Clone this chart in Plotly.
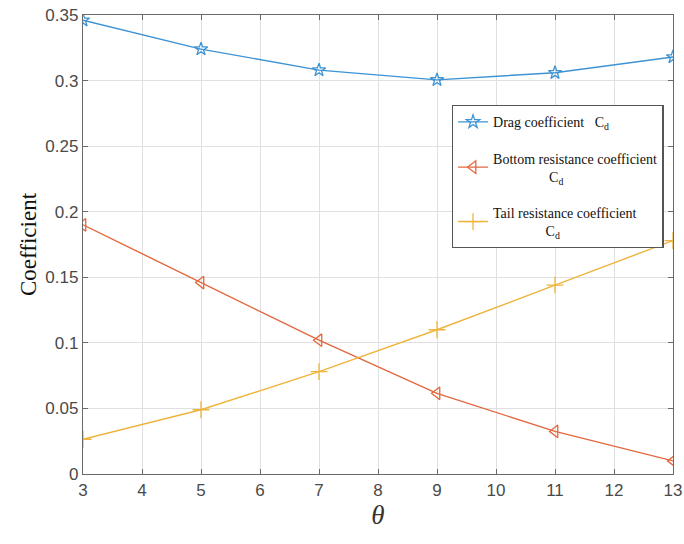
import plotly.graph_objects as go

theta = [3, 5, 7, 9, 11, 13]
drag = [0.346, 0.324, 0.308, 0.3005, 0.306, 0.318]
bottom = [0.190, 0.146, 0.102, 0.0615, 0.0325, 0.0100]
tail = [0.0265, 0.049, 0.078, 0.110, 0.144, 0.178]

names = ["Drag coefficient   C<sub>d</sub>",
         "Bottom resistance coefficient<br>                C<sub>d</sub>",
         "Tail resistance coefficient<br>               C<sub>d</sub>"]
colors = ["#3d93d3", "#e2683f", "#eeb43c"]
symbols = ["star-open", "triangle-left-open", "cross-thin-open"]
sizes = [10, 11, 12]
series = [drag, bottom, tail]

fig = go.Figure()
for i in range(3):
    fig.add_trace(go.Scatter(x=theta, y=series[i], mode="lines+markers", name=names[i],
                             legendgroup=f"g{i}",
                             line=dict(color=colors[i], width=1.4),
                             marker=dict(symbol=symbols[i], size=sizes[i], color=colors[i],
                                         line=dict(width=1.3, color=colors[i]))))

axis_common = dict(showgrid=True, gridcolor="#e0e0e0", gridwidth=1, showline=True, linecolor="#6a6a6a",
                   linewidth=1.3, mirror="ticks", ticks="inside", ticklen=5, tickcolor="#6a6a6a",
                   tickfont=dict(family="Liberation Sans, Arial", size=17, color="#4a4a4a"),
                   zeroline=False, automargin=False)

fig.update_layout(
    width=684, height=544,
    margin=dict(l=83, r=11, t=15, b=70),
    paper_bgcolor="white", plot_bgcolor="white",
    xaxis=dict(range=[3, 13], dtick=1, tick0=3,
               title=dict(text="<i>θ</i>", font=dict(family="Liberation Serif, Times New Roman", size=27, color="#333"),
                          standoff=6),
               **axis_common),
    yaxis=dict(range=[0, 0.35], dtick=0.05, tickformat="~g",
               title=dict(text="Coefficient", font=dict(family="Liberation Serif, Times New Roman", size=23, color="#111"),
                          standoff=2),
               **axis_common),
    legend=dict(x=0.625, y=0.804, xanchor="left", yanchor="top",
                bgcolor="white", bordercolor="#555555", borderwidth=1.3,
                font=dict(family="Liberation Serif, Times New Roman", size=14, color="#111"),
                tracegroupgap=15, itemwidth=30),
    showlegend=True,
)

fig.write_html("out.html")
